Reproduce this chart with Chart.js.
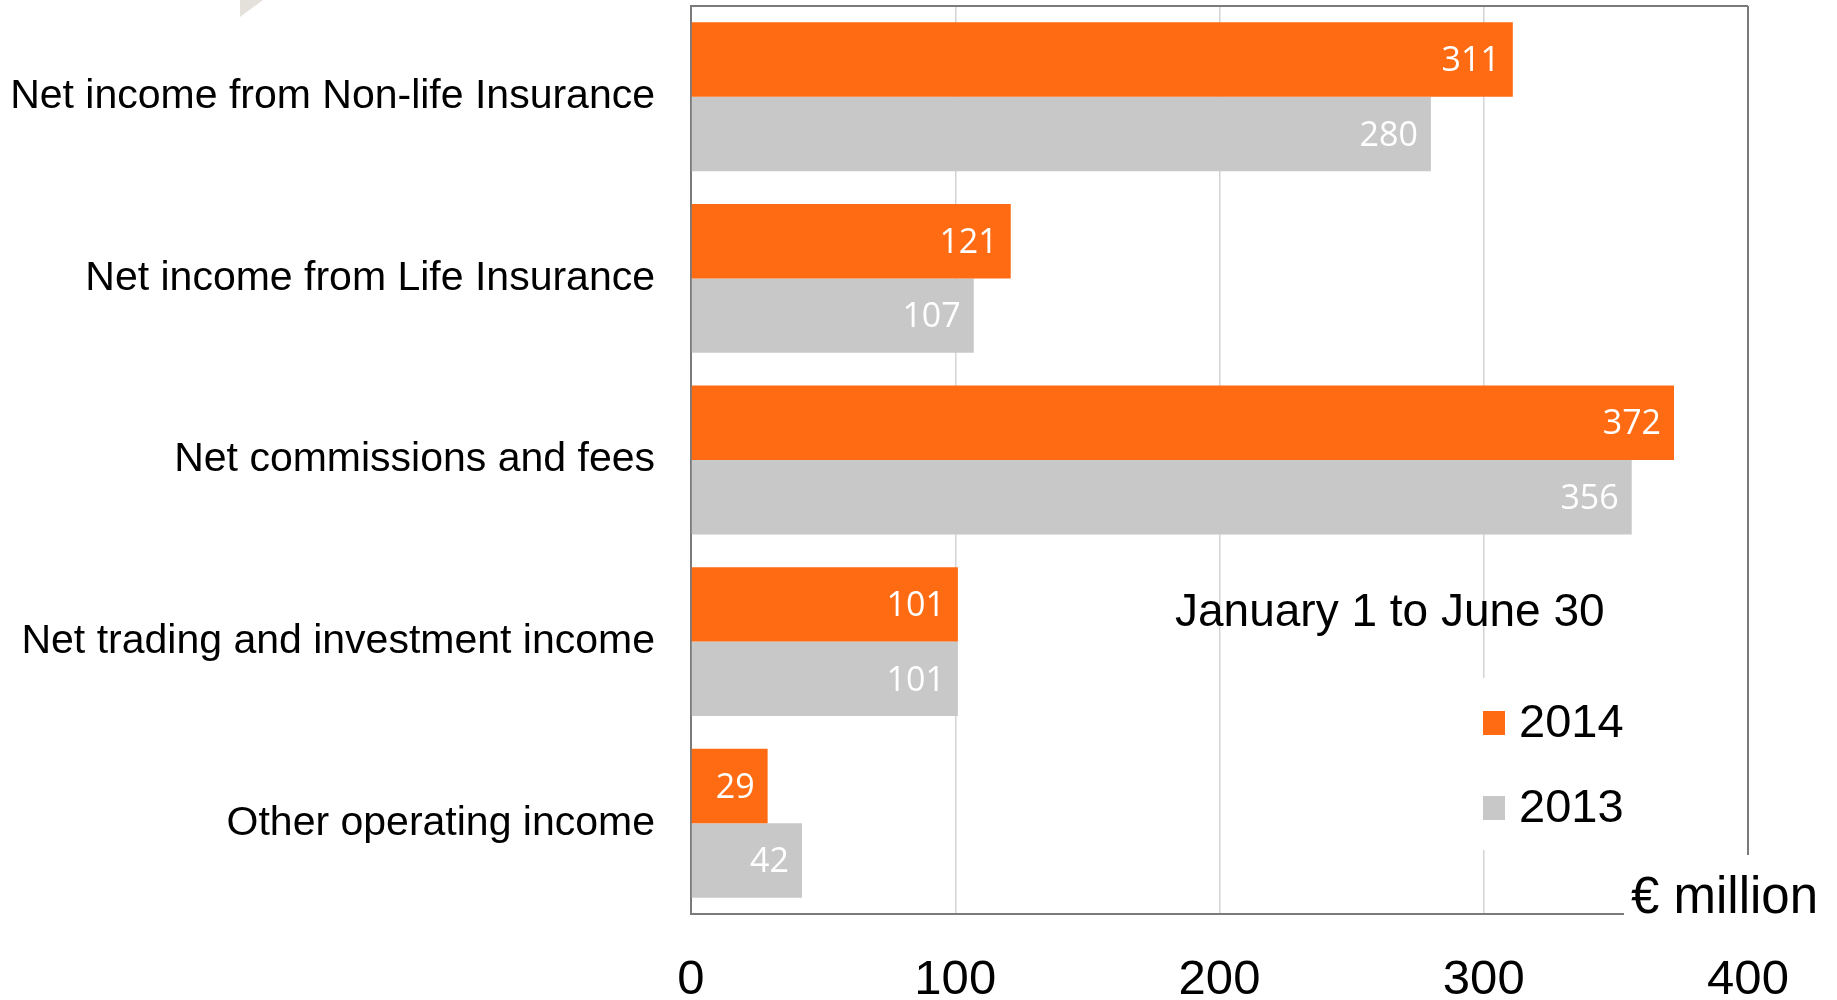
<!DOCTYPE html>
<html>
<head>
<meta charset="utf-8">
<script src="https://cdn.jsdelivr.net/npm/chart.js@4.4.1/dist/chart.umd.min.js"></script>
<style>
  html, body { margin: 0; padding: 0; background: #fff; }
  #wrap { width: 1837px; height: 1000px; }
</style>
</head>
<body>
<div id="wrap"><canvas id="income" width="1837" height="1000"></canvas></div>
<script>
var categories = [
  "Net income from Non-life Insurance",
  "Net income from Life Insurance",
  "Net commissions and fees",
  "Net trading and investment income",
  "Other operating income"
];
var values2014 = [311, 121, 372, 101, 29];
var values2013 = [280, 107, 356, 101, 42];
var seriesNames = ["2014", "2013"];
var seriesColors = ["#FF6B13", "#C8C8C8"];
var xTicks = [0, 100, 200, 300, 400];
var periodLabel = "January 1 to June 30";
var unitLabel = "\u20AC million";

var sans = "'Liberation Sans', Arial, sans-serif";
var axisGray = "#7a7a7a";

// extra bits that sit on top of the chart
var extras = {
  id: 'extras',
  beforeDatasetsDraw: function (chart) {
    var c = chart.ctx, a = chart.chartArea;
    c.save();
    // top border
    c.strokeStyle = axisGray;
    c.lineWidth = 2;
    c.beginPath();
    c.moveTo(a.left, a.top);
    c.lineTo(a.right, a.top);
    c.stroke();

    // period text
    c.fillStyle = "#000";
    c.font = "46px " + sans;
    c.textBaseline = "middle";
    c.textAlign = "left";
    c.fillText(periodLabel, 1175, 613);

    // legend (white box hides the grid line)
    c.fillStyle = "#fff";
    c.fillRect(1470, 678, 150, 172);
    chart.data.datasets.forEach(function (ds, i) {
      var y = 723 + i * 85;
      c.fillStyle = ds.backgroundColor;
      c.fillRect(1483, y - 12, 22, 24);
      c.fillStyle = "#000";
      c.font = "47px " + sans;
      c.fillText(ds.label, 1519, y + 1);
    });
    c.restore();
  },
  afterDatasetsDraw: function (chart) {
    var c = chart.ctx;
    c.save();
    c.fillStyle = "#fff";
    c.font = "34px 'Open Sans', sans-serif";
    c.textAlign = "right";
    c.textBaseline = "middle";
    chart.data.datasets.forEach(function (ds, i) {
      chart.getDatasetMeta(i).data.forEach(function (bar, j) {
        c.fillText(ds.data[j], bar.x - 13, bar.y + 2);
      });
    });
    c.restore();
  },
  afterDraw: function (chart) {
    var c = chart.ctx;
    c.save();
    c.fillStyle = "#fff";
    c.fillRect(1624, 855, 213, 75);
    c.fillStyle = "#000";
    c.font = "51px " + sans;
    c.textBaseline = "middle";
    c.fillText(unitLabel, 1631, 899);
    // little corner shape at top left
    c.fillStyle = "#e3e1da";
    c.beginPath();
    c.moveTo(240, 0);
    c.lineTo(263, 0);
    c.lineTo(240, 17);
    c.closePath();
    c.fill();
    c.restore();
  }
};

var ctx = document.getElementById("income").getContext('2d');
var incomeChart = new Chart(ctx, {
  type: 'bar',
  data: {
    labels: categories,
    datasets: [{
      label: seriesNames[0],
      data: values2014,
      backgroundColor: seriesColors[0]
    }, {
      label: seriesNames[1],
      data: values2013,
      backgroundColor: seriesColors[1]
    }]
  },
  options: {
    indexAxis: 'y',
    responsive: false,
    animation: false,
    devicePixelRatio: 1,
    categoryPercentage: 0.82,
    barPercentage: 1.0,
    layout: { padding: { top: 6, right: 89, left: 0, bottom: 0 } },
    plugins: {
      legend: { display: false },
      tooltip: { enabled: false }
    },
    scales: {
      x: {
        min: xTicks[0],
        max: xTicks[xTicks.length - 1],
        afterBuildTicks: function (axis) {
          axis.ticks = xTicks.map(function (v) { return { value: v }; });
        },
        afterFit: function (axis) { axis.height = 86; },
        ticks: {
          color: "#000",
          font: { family: sans, size: 49 },
          padding: 37
        },
        grid: {
          drawTicks: false,
          color: function (c) { return c.tick && c.tick.value === 400 ? axisGray : "#d4d4d4"; },
          lineWidth: function (c) { return c.tick && c.tick.value === 400 ? 2 : 1.5; }
        },
        border: { color: axisGray, width: 2 }
      },
      y: {
        afterFit: function (axis) {
          axis.width = 691;
          axis.paddingTop = 0;
          axis.paddingBottom = 0;
        },
        ticks: {
          color: "#000",
          font: { family: sans, size: 41 },
          padding: 36
        },
        grid: { display: false, drawTicks: false },
        border: { color: axisGray, width: 2 }
      }
    }
  },
  plugins: [extras]
});
</script>
</body>
</html>
